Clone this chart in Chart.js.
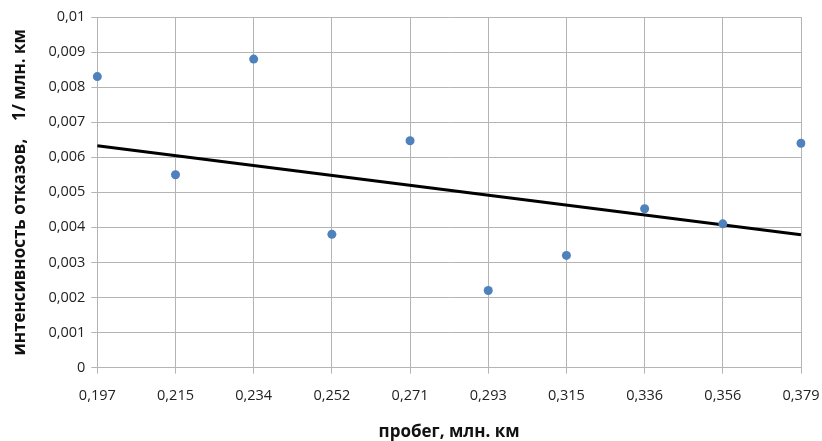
<!DOCTYPE html>
<html>
<head>
<meta charset="utf-8">
<script src="https://cdn.jsdelivr.net/npm/chart.js@4/dist/chart.umd.min.js"></script>
<style>
  html, body { margin: 0; padding: 0; background: #fff; }
  #box { width: 822px; height: 441px; position: relative; }
</style>
</head>
<body>
<div id="box"><canvas id="myChart"></canvas></div>
<script>
// пробег, млн. км
const probeg = ['0,197', '0,215', '0,234', '0,252', '0,271', '0,293', '0,315', '0,336', '0,356', '0,379'];
// интенсивность отказов, 1/млн. км
const intensivnost = [0.0083, 0.0055, 0.0088, 0.0038, 0.00647, 0.0022, 0.0032, 0.00453, 0.0041, 0.0064];
// линия тренда (концы)
const trendStart = 0.00633;
const trendEnd = 0.00379;
const yTickLabels = ['0', '0,001', '0,002', '0,003', '0,004', '0,005', '0,006', '0,007', '0,008', '0,009', '0,01'];

const trend = probeg.map((p, i) => i === 0 ? trendStart : (i === probeg.length - 1 ? trendEnd : null));

const fonte = "'Open Sans', 'Liberation Sans', sans-serif";
const corGrade = '#b4b4b4';

const ctx = document.getElementById('myChart');

new Chart(ctx, {
    type: 'line',
    data: {
        labels: probeg,
        datasets: [
        {
            label: 'данные',
            data: intensivnost,
            showLine: false,
            pointRadius: 4.5,
            pointHoverRadius: 4.5,
            pointBackgroundColor: '#4f81bd',
            pointBorderColor: '#4f81bd',
            pointBorderWidth: 0,
            order: 1
        },
        {
            label: 'тренд',
            data: trend,
            spanGaps: true,
            borderColor: '#000',
            borderWidth: 3,
            pointRadius: 0,
            fill: false,
            order: 2
        }
        ]
    },
    options: {
        responsive: true,
        maintainAspectRatio: false,
        animation: false,
        layout: {
            padding: { left: 10, right: 8, top: 17, bottom: 0 }
        },
        scales: {
            x: {
                offset: false,
                afterFit: (scale) => { scale.paddingRight = 21; },
                grid: {
                    color: corGrade,
                    lineWidth: 1,
                    tickLength: 6,
                    drawTicks: true
                },
                border: { color: corGrade },
                ticks: {
                    color: '#222',
                    maxRotation: 0,
                    padding: 14,
                    font: { family: fonte, size: 14.5 }
                },
                title: {
                    display: true,
                    text: 'пробег, млн. км',
                    color: '#111',
                    padding: { top: 5, bottom: 0 },
                    font: { family: fonte, size: 17, weight: 'bold', lineHeight: 1 }
                }
            },
            y: {
                min: 0,
                max: 0.01,
                grid: {
                    color: corGrade,
                    lineWidth: 1,
                    tickLength: 6
                },
                border: { color: corGrade },
                ticks: {
                    stepSize: 0.001,
                    color: '#222',
                    padding: 6,
                    font: { family: fonte, size: 14.5 },
                    callback: (v, i) => yTickLabels[i]
                },
                title: {
                    display: true,
                    text: 'интенсивность отказов,    1/ млн. км',
                    color: '#111',
                    padding: { top: 0, bottom: 12 },
                    font: { family: fonte, size: 17, weight: 'bold' }
                }
            }
        },
        plugins: {
            legend: { display: false },
            tooltip: { enabled: false }
        }
    }
});
</script>
</body>
</html>
